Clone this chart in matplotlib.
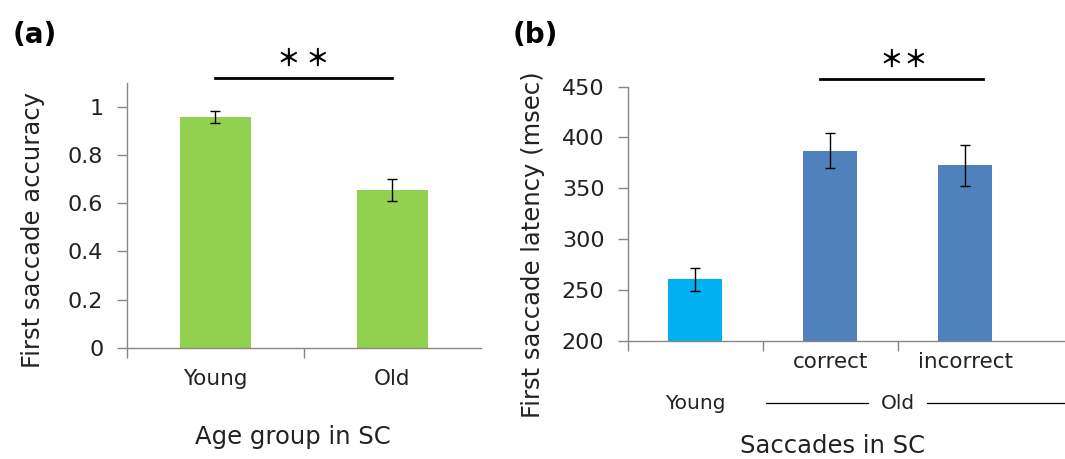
import matplotlib
matplotlib.use('Agg')
import matplotlib.pyplot as plt
import matplotlib.transforms as mtransforms

plt.rcParams['font.family'] = ['DejaVu Sans']

# panel (a) data
age_groups = ['Young', 'Old']
accuracy = [0.96, 0.656]
accuracy_err = [0.024, 0.047]

# panel (b) data
saccade_types = ['', 'correct', 'incorrect']
latency = [260.7, 387.0, 372.7]
latency_err = [11.5, 17.0, 20.0]

green = '#92D050'
light_blue = '#00B0F0'
steel_blue = '#4F81BD'
axis_gray = '#868686'
txt = '#222222'
star_font = ['Noto Sans CJK JP', 'DejaVu Sans']

fig = plt.figure(figsize=(10.65, 4.59), dpi=100)


def style_axes(ax):
    for s in ['top', 'right']:
        ax.spines[s].set_visible(False)
    for s in ['left', 'bottom']:
        ax.spines[s].set_color(axis_gray)
        ax.spines[s].set_linewidth(1.0)
    ax.tick_params(axis='y', length=7, width=1.0, color=axis_gray, pad=10,
                   labelsize=16, labelcolor=txt)
    ax.tick_params(axis='x', which='major', length=0, labelsize=15.5, labelcolor=txt)
    ax.tick_params(axis='x', which='minor', length=7, width=1.0, color=axis_gray)


def stars(ax, xs, y):
    for xv in xs:
        ax.text(xv, y, '＊', ha='center', va='center', fontsize=17,
                fontweight='bold', family=star_font)


# ---------------- (a) ----------------
ax1 = fig.add_axes([0.1192, 0.2425, 0.3324, 0.5765])
x1 = list(range(len(age_groups)))
ax1.bar(x1, accuracy, width=0.4, color=green, zorder=2)
ax1.errorbar(x1, accuracy, yerr=accuracy_err, fmt='none', ecolor='black',
             elinewidth=1, capsize=3.5, capthick=1, zorder=3)
ax1.set_xlim(-0.5, 1.5)
ax1.set_ylim(0, 1.1)
ax1.set_yticks([0, 0.2, 0.4, 0.6, 0.8, 1.0])
ax1.set_yticklabels(['0', '0.2', '0.4', '0.6', '0.8', '1'])
ax1.set_xticks(x1)
ax1.set_xticklabels(age_groups)
ax1.set_xticks([-0.5, 0.5], minor=True)
style_axes(ax1)
ax1.tick_params(axis='x', which='major', pad=15)
ax1.set_ylabel('First saccade accuracy', fontsize=17.5, color=txt)
ax1.yaxis.set_label_coords(-0.232, 0.445)
ax1.set_xlabel('Age group in SC', fontsize=17.5, color=txt)
ax1.xaxis.set_label_coords(0.469, -0.292)

ax1.plot([0, 1], [1.12, 1.12], color='black', lw=2, clip_on=False)
stars(ax1, [0.41, 0.575], 1.2)

# ---------------- (b) ----------------
ax2 = fig.add_axes([0.5897, 0.2571, 0.4103, 0.5544])
x2 = list(range(len(saccade_types)))
ax2.bar(x2, latency, width=0.4, color=[light_blue, steel_blue, steel_blue], zorder=2)
ax2.errorbar(x2, latency, yerr=latency_err, fmt='none', ecolor='black',
             elinewidth=1, capsize=3.5, capthick=1, zorder=3)
ax2.set_xlim(-0.5, 2.74)
ax2.set_ylim(200, 450)
ax2.set_yticks([200, 250, 300, 350, 400, 450])
ax2.set_xticks(x2)
ax2.set_xticklabels(saccade_types)
ax2.set_xticks([-0.5, 0.5, 1.5], minor=True)
style_axes(ax2)
ax2.tick_params(axis='x', which='major', pad=8)
ax2.set_ylabel('First saccade latency (msec)', fontsize=17.5, color=txt)
ax2.yaxis.set_label_coords(-0.19, 0.377)
ax2.set_xlabel('Saccades in SC', fontsize=17.5, color=txt)
ax2.xaxis.set_label_coords(0.469, -0.366)

# group labels under the categories
blend = mtransforms.blended_transform_factory(ax2.transData, ax2.transAxes)
ax2.text(0, -0.244, 'Young', transform=blend, ha='center', va='center',
         fontsize=14.5, color=txt)
ax2.text(1.5, -0.244, 'Old', transform=blend, ha='center', va='center',
         fontsize=14.5, color=txt)
ax2.plot([0.52, 1.28], [-0.244, -0.244], transform=blend, color='black',
         lw=0.9, clip_on=False)
ax2.plot([1.72, 2.74], [-0.244, -0.244], transform=blend, color='black',
         lw=0.9, clip_on=False)

ax2.plot([0.92, 2.13], [457.6, 457.6], color='black', lw=2, clip_on=False)
stars(ax2, [1.455, 1.63], 476)

# panel letters
fig.text(35 / 1065, 1 - 35 / 459, '(a)', ha='center', va='center',
         fontsize=20, fontweight='bold')
fig.text(535 / 1065, 1 - 35 / 459, '(b)', ha='center', va='center',
         fontsize=20, fontweight='bold')

fig.savefig('out.png', dpi=100)
